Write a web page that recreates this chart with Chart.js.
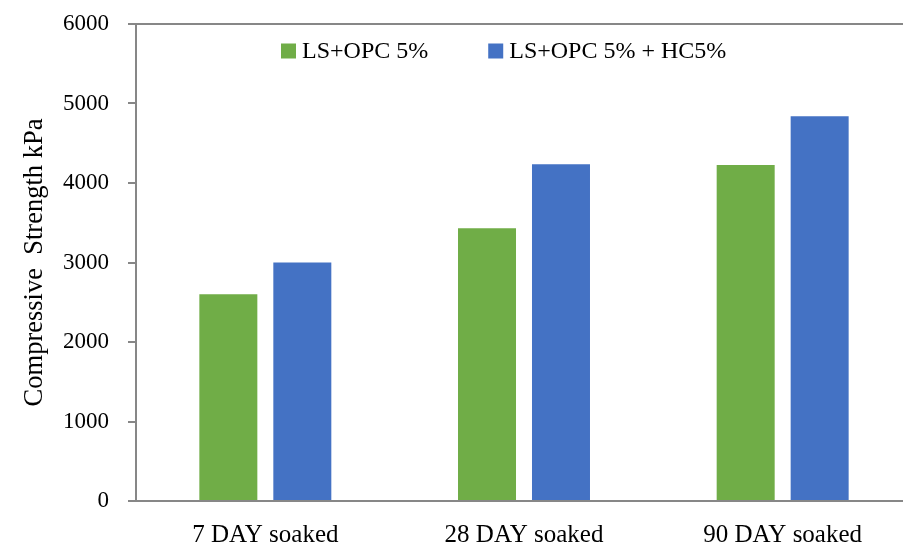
<!DOCTYPE html>
<html>
<head>
<meta charset="utf-8">
<title>Compressive Strength</title>
<script src="https://cdn.jsdelivr.net/npm/chart.js@4.4.1/dist/chart.umd.min.js"></script>
<style>
  html, body { margin: 0; padding: 0; background: #fff; overflow: hidden; }
  #wrap { width: 912px; height: 547px; }
</style>
</head>
<body>
<div id="wrap"><canvas id="strengthChart" width="912" height="547"></canvas></div>
<script>
/* ==================== */
/* 1  Data               */
/* ==================== */
const categories = ['7 DAY soaked', '28 DAY soaked', '90 DAY soaked'];
const lsOpc = [2600, 3430, 4225];
const lsOpcHc = [3000, 4235, 4840];
const yTicks = [0, 1000, 2000, 3000, 4000, 5000, 6000];

const FONT = '"Liberation Serif", "Times New Roman", serif';
const AXIS_GREY = '#878787';

/* ==================== */
/* 2  Plugins            */
/* ==================== */
// top frame line of the plot area
const topLine = {
  id: 'topLine',
  afterDraw(chart) {
    const { ctx, chartArea } = chart;
    ctx.save();
    ctx.strokeStyle = AXIS_GREY;
    ctx.lineWidth = 2;
    ctx.beginPath();
    ctx.moveTo(chartArea.left, chartArea.top);
    ctx.lineTo(chart.width, chartArea.top);
    ctx.stroke();
    ctx.restore();
  }
};

// legend sitting inside the plot area, like the Excel original
const insideLegend = {
  id: 'insideLegend',
  afterDraw(chart) {
    const { ctx, chartArea } = chart;
    let x = chartArea.left + 145;
    const y = chartArea.top + 27;
    ctx.save();
    ctx.font = '24px ' + FONT;
    ctx.textBaseline = 'middle';
    chart.data.datasets.forEach(ds => {
      ctx.fillStyle = ds.backgroundColor;
      ctx.fillRect(x, y - 7.5, 15, 15);
      ctx.fillStyle = '#000';
      ctx.fillText(ds.label, x + 21, y + 1);
      x += 21 + ctx.measureText(ds.label).width + 60;
    });
    ctx.restore();
  }
};

/* ==================== */
/* 3  Chart              */
/* ==================== */
new Chart(document.getElementById('strengthChart'), {
  type: 'bar',
  data: {
    labels: categories,
    datasets: [
      { label: 'LS+OPC 5%', data: lsOpc, backgroundColor: '#70AD47' },
      { label: 'LS+OPC 5% + HC5%', data: lsOpcHc, backgroundColor: '#4472C4' }
    ]
  },
  options: {
    responsive: false,
    animation: false,
    categoryPercentage: 0.572,
    barPercentage: 0.784,
    layout: { padding: { top: 24, left: 0, right: 0, bottom: 0 } },
    plugins: {
      legend: { display: false },
      tooltip: { enabled: false }
    },
    scales: {
      x: {
        afterFit: axis => {
          axis.height = 46;
          axis.paddingLeft = 0;
          axis.paddingRight = 0;
        },
        grid: { display: false, drawTicks: false },
        border: { display: true, color: AXIS_GREY, width: 2 },
        ticks: { color: '#000', padding: 19, maxRotation: 0, font: { family: FONT, size: 25 } }
      },
      y: {
        min: 0,
        max: 6000,
        afterFit: axis => {
          axis.width = 136;
          axis.paddingTop = 0;
          axis.paddingBottom = 0;
        },
        afterBuildTicks: axis => { axis.ticks = yTicks.map(v => ({ value: v })); },
        grid: { drawOnChartArea: false, drawTicks: true, tickLength: 8, tickColor: AXIS_GREY, lineWidth: 2 },
        border: { display: true, color: AXIS_GREY, width: 2 },
        ticks: {
          color: '#000',
          padding: 19,
          font: { family: FONT, size: 23 },
          callback: v => String(v)
        },
        title: {
          display: true,
          text: 'Compressive  Strength kPa',
          color: '#000',
          padding: { top: 19, bottom: 0 },
          font: { family: FONT, size: 26.5 }
        }
      }
    }
  },
  plugins: [topLine, insideLegend]
});
</script>
</body>
</html>
